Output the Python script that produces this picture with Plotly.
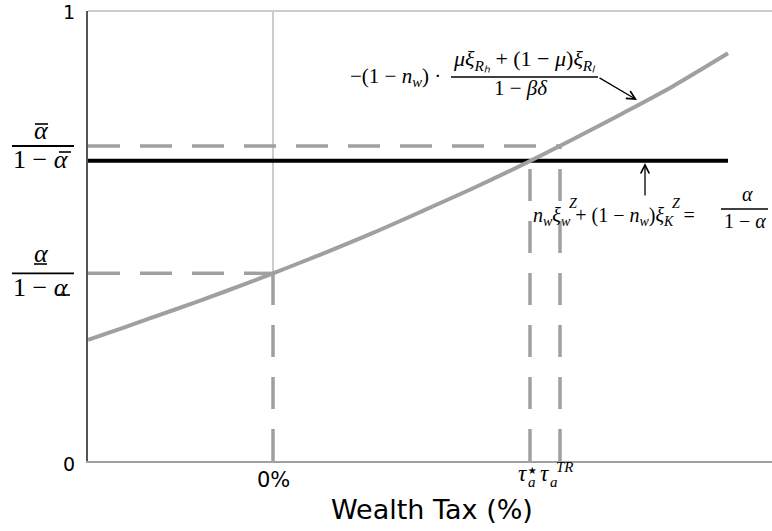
import plotly.graph_objects as go

# ---- data ----
curve_x = [-1.85, -1.5, -1.0, -0.5, 0.0, 0.5, 1.0, 1.5, 2.0, 2.5, 3.0, 3.5, 4.0, 4.55]
curve_y = [0.269, 0.296, 0.335, 0.375, 0.417, 0.461, 0.507, 0.556, 0.606, 0.659, 0.715, 0.773, 0.833, 0.906]
x_min, x_max = -1.85, 4.99
target_level = 0.667      # n_w xi_w^Z + (1-n_w) xi_K^Z = alpha/(1-alpha)
alpha_low_level = 0.417   # alpha_under/(1-alpha_under)
alpha_high_level = 0.700  # alpha_bar/(1-alpha_bar)
tau_zero = 0.0
tau_star = 2.57
tau_tr = 2.87
curve_end = 4.55
y_tick_vals = [0, 1]
y_tick_text = ["0", "1"]
x_tick_text = "0%"
x_title = "Wealth Tax (%)"

GREY = "#a0a0a0"
DASH = "32px,20px"
MATH = "Liberation Serif"
SANS = "DejaVu Sans"

W, H = 772, 531
L, R, T, B = 88, 0, 11, 70
PW, PH = W - L - R, H - T - B

def PX(px):
    return (px - L) / PW

def PY(py):
    return (H - B - py) / PH

fig = go.Figure()

# thin light vertical at 0% above the curve
fig.add_trace(go.Scatter(x=[tau_zero, tau_zero], y=[alpha_low_level, 1], mode="lines",
                         line=dict(color="#cccccc", width=2), hoverinfo="skip"))

def dashed(xs, ys):
    fig.add_trace(go.Scatter(x=xs, y=ys, mode="lines",
                             line=dict(color=GREY, width=3.5, dash=DASH), hoverinfo="skip"))

dashed([x_min, tau_tr], [alpha_high_level, alpha_high_level])
dashed([x_min, tau_zero], [alpha_low_level, alpha_low_level])
dashed([tau_zero, tau_zero], [0, alpha_low_level])
dashed([tau_star, tau_star], [0, target_level])
dashed([tau_tr, tau_tr], [0, alpha_high_level])
# black target line
fig.add_trace(go.Scatter(x=[x_min, curve_end], y=[target_level, target_level], mode="lines",
                         line=dict(color="black", width=4), hoverinfo="skip"))
# curve
fig.add_trace(go.Scatter(x=curve_x, y=curve_y, mode="lines",
                         line=dict(color=GREY, width=4, shape="spline", smoothing=0.8),
                         hoverinfo="skip"))

ann = []
shapes = []

def txt(x, y, s, size=16, font=MATH, xref="paper", yref="paper", xanchor="center",
        yanchor="middle", xshift=0, yshift=0):
    ann.append(dict(x=x, y=y, xref=xref, yref=yref, text=s, showarrow=False,
                    font=dict(family=font, size=size, color="black"),
                    xanchor=xanchor, yanchor=yanchor, xshift=xshift, yshift=yshift))

def hline(px0, px1, py, width=1.4):
    shapes.append(dict(type="line", xref="paper", yref="paper", x0=PX(px0), x1=PX(px1),
                       y0=PY(py), y1=PY(py), line=dict(color="black", width=width)))

# y-axis tick labels
txt(PX(77), y_tick_vals[0], y_tick_text[0], size=19, font=SANS, yref="y", xanchor="right", yshift=-3)
txt(PX(77), y_tick_vals[1], y_tick_text[1], size=19, font=SANS, yref="y", xanchor="right", yshift=-1)

# y-axis fraction labels
txt(PX(41), PY(130), "<i>α</i>", size=26)
hline(35, 48, 124, 1.6)
txt(PX(41), PY(159), "1 − <i>α</i>", size=26)
hline(59, 71, 152, 1.6)
shapes.append(dict(type="line", xref="paper", yref="y", x0=PX(12), x1=PX(74),
                   y0=alpha_high_level, y1=alpha_high_level, line=dict(color="black", width=1.8)))
txt(PX(41), PY(253), "<i>α</i>", size=26)
hline(34, 47, 264, 1.6)
txt(PX(41), PY(287), "1 − <i>α</i>", size=26)
hline(58, 70, 295, 1.6)
shapes.append(dict(type="line", xref="paper", yref="y", x0=PX(12), x1=PX(74),
                   y0=alpha_low_level, y1=alpha_low_level, line=dict(color="black", width=1.8)))

# top annotation
txt(PX(395), PY(77), "−(1 − <i>n<sub>w</sub></i>) ·", size=21)
txt(PX(524), PY(60), "<i>μξ<sub>Rₕ</sub></i> + (1 − <i>μ</i>)<i>ξ<sub>Rₗ</sub></i>", size=22)
hline(451, 598, 77)
txt(PX(521), PY(88), "1 − <i>βδ</i>", size=21)
ann.append(dict(x=PX(637), y=PY(100), xref="paper", yref="paper", ax=-39, ay=-23, text="",
                showarrow=True, arrowhead=5, arrowsize=1.3, arrowwidth=1.3, arrowcolor="black"))

# bottom annotation
txt(PX(697), PY(216), "<i>n<sub>w</sub>ξ<sub>w</sub></i> + (1 − <i>n<sub>w</sub></i>)<i>ξ<sub>K</sub></i>  =",
    size=20, xanchor="right")
txt(PX(573), PY(203), "<i>Z</i>", size=14)
txt(PX(676), PY(203), "<i>Z</i>", size=14)
txt(PX(747), PY(194), "<i>α</i>", size=20)
hline(721, 768, 209)
txt(PX(745), PY(221), "1 − <i>α</i>", size=20)
ann.append(dict(x=PX(645), y=PY(163), xref="paper", yref="paper", ax=0, ay=34, text="",
                showarrow=True, arrowhead=5, arrowsize=1.3, arrowwidth=1.3, arrowcolor="black"))

# x tick labels
txt(tau_zero, 0, x_tick_text, size=21, font=SANS, xref="x", yshift=-19)
txt(tau_star, 0, "<i>τ</i>", size=23, xref="x", yshift=-12, xshift=-8)
txt(tau_star, 0, "⋆", size=20, font=SANS, xref="x", yshift=-9, xshift=2)
txt(tau_star, 0, "<i>a</i>", size=15, xref="x", yshift=-21, xshift=2)
txt(tau_tr, 0, "<i>τ</i>", size=23, xref="x", yshift=-12, xshift=-16)
txt(tau_tr, 0, "<i>TR</i>", size=15, xref="x", yshift=-6, xshift=5)
txt(tau_tr, 0, "<i>a</i>", size=15, xref="x", yshift=-21, xshift=-6)

# x-axis title
txt(0.5, PY(510), x_title, size=27, font=SANS, xshift=2)

# top border
shapes.append(dict(type="line", xref="paper", yref="paper", x0=0, x1=1, y0=1, y1=1,
                   line=dict(color="#cccccc", width=2)))

fig.update_layout(
    width=W, height=H, margin=dict(l=L, r=R, t=T, b=B, autoexpand=False),
    plot_bgcolor="white", paper_bgcolor="white", showlegend=False,
    annotations=ann, shapes=shapes,
    xaxis=dict(range=[x_min, x_max], showgrid=False, zeroline=False, showline=True,
               linecolor=GREY, linewidth=2, showticklabels=False, ticks="", automargin=False),
    yaxis=dict(range=[0, 1], showgrid=False, zeroline=False, showline=True,
               linecolor="#555555", linewidth=2, showticklabels=False, ticks="", automargin=False),
)

fig.write_html("out.html", config={"displayModeBar": False},
               post_script="document.body.style.margin='0';document.body.style.overflow='hidden';")
